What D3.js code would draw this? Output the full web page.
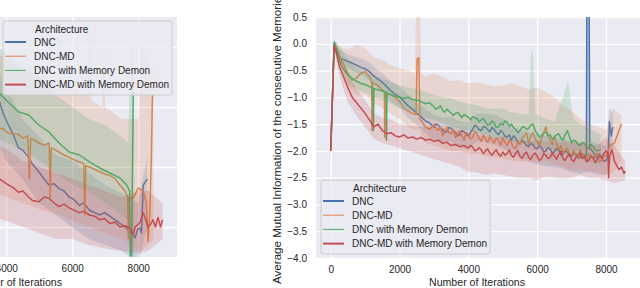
<!DOCTYPE html>
<html>
<head>
<meta charset="utf-8">
<script src="https://cdn.jsdelivr.net/npm/d3@7"></script>
<style>
  body { margin: 0; background: #fff; }
  text { font-family: "Liberation Sans", Arial, sans-serif; fill: #262626; }
</style>
</head>
<body>
<div id="chart"></div>
<script>
var width = 640, height = 288;

var names = ["DNC", "DNC-MD", "DNC with Memory Demon", "DNC-MD with Memory Demon"];
var colors = ["#4c72b0", "#dd8452", "#55a868", "#c44e52"];
var legendWidths = [2, 1, 1, 2];
var xTickValues = [0, 2000, 4000, 6000, 8000];
var rightYTicks = [0.5, 0.0, -0.5, -1.0, -1.5, -2.0, -2.5, -3.0, -3.5, -4.0];
var leftYTicks = [-1.0, -1.5, -2.0, -2.5];

// ---- right panel: [iteration, mean]
var rDnc = [[0,-2.0],[100,0.03],[200,-0.2],[300,-0.28],[400,-0.3],[500,-0.33],[625,-0.36],[750,-0.4],[875,-0.44],[1000,-0.47],[1125,-0.52],[1250,-0.6],[1375,-0.66],[1500,-0.72],[1625,-0.8],[1750,-0.88],[1875,-0.94],[2000,-0.99],[2125,-1.08],[2250,-1.16],[2375,-1.22],[2500,-1.3],[2625,-1.36],[2750,-1.44],[2875,-1.48],
  [3000,-1.56],[3060,-1.5],[3125,-1.52],[3190,-1.58],[3250,-1.6],[3310,-1.66],[3375,-1.64],[3440,-1.56],[3500,-1.58],[3560,-1.62],[3625,-1.66],[3690,-1.72],[3750,-1.7],[3810,-1.62],[3875,-1.64],[3940,-1.7],[4000,-1.72],[4060,-1.66],[4125,-1.6],[4190,-1.52],[4250,-1.55],[4310,-1.6],[4375,-1.62],[4440,-1.54],[4500,-1.56],[4560,-1.6],[4625,-1.64],[4690,-1.56],[4750,-1.6],[4810,-1.66],[4875,-1.7],[4940,-1.62],[5000,-1.66],[5060,-1.72],[5125,-1.74],[5190,-1.7],[5250,-1.8],[5310,-1.72],[5375,-1.76],[5440,-1.84],[5500,-1.86],[5560,-1.8],[5625,-1.84],[5690,-1.9],[5750,-1.92],[5810,-1.86],[5875,-1.88],[5940,-1.95],[6000,-1.96],[6060,-1.9],[6125,-1.94],[6190,-2.02],[6250,-2.0],[6310,-1.94],[6375,-1.96],[6440,-2.04],[6500,-2.02],[6560,-1.96],[6625,-1.98],[6690,-2.08],[6750,-2.06],[6810,-2.0],[6875,-2.02],[6940,-2.1],[7000,-2.1],[7060,-2.04],[7125,-2.06],[7190,-2.14],[7250,-2.12],[7310,-2.06],[7375,-2.08],[7430,-2.1],
  [7445,0.7],[7510,0.7],[7525,-1.95],[7625,-2.02],[7690,-2.1],[7750,-2.14],[7810,-2.06],[7875,-2.12],[7940,-2.2],[8000,-2.18],[8060,-2.1],[8100,-1.45],[8150,-1.72],[8200,-1.55]];
var rDncMd = [[0,-2.0],[100,0.0],[200,-0.12],[300,-0.3],[400,-0.42],[500,-0.56],[625,-0.68],[750,-0.64],[875,-0.55],[1000,-0.52],[1125,-0.62],[1190,-0.7],[1200,-1.62],[1215,-0.72],[1375,-0.78],[1500,-0.86],[1560,-0.9],[1570,-1.75],[1585,-0.92],[1750,-0.95],[1875,-1.0],[2000,-1.08],[2125,-1.2],[2250,-1.26],[2375,-1.3],[2480,-1.32],[2510,-0.28],[2560,-0.26],[2590,-1.4],[2750,-1.55],[2875,-1.6],
  [3000,-1.5],[3060,-1.58],[3125,-1.62],[3190,-1.55],[3250,-1.72],[3310,-1.64],[3375,-1.55],[3440,-1.66],[3500,-1.68],[3560,-1.6],[3625,-1.75],[3690,-1.7],[3750,-1.62],[3810,-1.72],[3875,-1.8],[3940,-1.66],[4000,-1.7],[4060,-1.78],[4125,-1.75],[4190,-1.64],[4250,-1.68],[4310,-1.76],[4375,-1.82],[4440,-1.7],[4500,-1.78],[4560,-1.84],[4625,-1.72],[4690,-1.8],[4750,-1.85],[4810,-1.76],[4875,-1.8],[4940,-1.9],[5000,-1.76],[5060,-1.84],[5125,-1.9],[5190,-1.8],[5250,-1.85],[5310,-1.94],[5375,-1.95],[5440,-1.84],[5500,-1.88],[5560,-1.76],[5625,-1.72],[5690,-1.66],[5750,-1.85],[5810,-1.74],[5875,-1.66],[5940,-1.78],[6000,-1.82],[6060,-1.9],[6125,-1.78],[6190,-1.66],[6250,-1.55],[6310,-1.7],[6375,-1.8],[6440,-1.88],[6500,-1.72],[6560,-1.85],[6625,-1.98],[6690,-1.9],[6750,-2.05],[6810,-1.98],[6875,-1.95],[6940,-2.06],[7000,-2.1],[7060,-2.0],[7125,-2.08],[7190,-2.14],[7250,-1.98],[7310,-2.06],[7375,-2.12],[7440,-2.2],[7500,-2.05],[7560,-2.1],[7625,-2.15],[7690,-2.08],[7750,-2.05],[7810,-2.2],[7875,-2.18],[7940,-2.1],[8000,-2.1],[8125,-1.9],[8250,-1.85],[8375,-1.62],[8450,-1.5]];
var rDncDemon = [[0,-2.0],[100,0.02],[200,-0.15],[300,-0.4],[400,-0.5],[500,-0.58],[625,-0.65],[750,-0.7],[875,-0.74],[1000,-0.76],[1125,-0.8],[1230,-0.82],[1240,-1.62],[1255,-0.84],[1375,-0.86],[1500,-0.88],[1610,-0.9],[1620,-1.8],[1635,-0.92],[1750,-0.95],[1875,-0.98],[2000,-1.0],[2125,-1.02],[2250,-1.0],[2375,-1.04],[2500,-1.05],[2625,-1.08],[2750,-1.12],[2875,-1.1],
  [3000,-1.18],[3060,-1.22],[3125,-1.2],[3190,-1.16],[3250,-1.24],[3310,-1.28],[3375,-1.22],[3440,-1.26],[3500,-1.29],[3560,-1.34],[3625,-1.3],[3690,-1.28],[3750,-1.33],[3810,-1.38],[3875,-1.32],[3940,-1.35],[4000,-1.37],[4060,-1.42],[4125,-1.36],[4190,-1.38],[4250,-1.4],[4310,-1.46],[4375,-1.42],[4440,-1.4],[4500,-1.46],[4560,-1.52],[4625,-1.5],[4690,-1.44],[4750,-1.48],[4810,-1.56],[4875,-1.55],[4940,-1.48],[5000,-1.52],[5060,-1.44],[5125,-1.46],[5190,-1.54],[5250,-1.5],[5310,-1.56],[5375,-1.6],[5440,-1.66],[5500,-1.62],[5560,-1.56],[5625,-1.55],[5690,-1.6],[5750,-1.58],[5810,-1.52],[5875,-1.5],[5940,-1.62],[6000,-1.68],[6060,-1.74],[6125,-1.72],[6190,-1.66],[6250,-1.65],[6310,-1.72],[6375,-1.7],[6440,-1.78],[6500,-1.75],[6560,-1.7],[6625,-1.68],[6690,-1.76],[6750,-1.8],[6810,-1.7],[6875,-1.62],[6940,-1.74],[7000,-1.85],[7060,-1.8],[7125,-1.82],[7190,-1.88],[7250,-1.9],[7310,-1.84],[7375,-1.86],[7440,-1.92],[7500,-1.95],[7560,-1.88],[7625,-1.92],[7690,-1.98],[7750,-2.0],[7850,-1.98]];
var rDncMdDemon = [[0,-2.0],[60,-0.8],[100,-0.03],[175,-0.2],[250,-0.42],[375,-0.62],[500,-0.82],[625,-1.0],[750,-1.1],[875,-1.2],[1000,-1.3],[1125,-1.42],[1250,-1.55],[1375,-1.5],[1500,-1.62],[1625,-1.68],[1750,-1.66],[1875,-1.72],[2000,-1.74],[2125,-1.7],[2250,-1.76],[2375,-1.74],[2500,-1.78],[2625,-1.75],[2750,-1.8],[2875,-1.78],[3000,-1.82],[3125,-1.8],[3250,-1.86],[3375,-1.84],[3500,-1.9],[3625,-1.88],[3750,-1.92],[3875,-1.9],
  [4000,-1.95],[4060,-1.9],[4125,-1.93],[4190,-2.0],[4250,-1.98],[4310,-1.94],[4375,-1.98],[4440,-2.05],[4500,-2.0],[4560,-1.96],[4625,-2.04],[4690,-2.08],[4750,-2.02],[4810,-1.98],[4875,-2.06],[4940,-2.1],[5000,-2.02],[5060,-2.08],[5125,-2.05],[5190,-1.98],[5250,-2.08],[5310,-2.12],[5375,-2.04],[5440,-2.0],[5500,-2.1],[5560,-2.14],[5625,-2.06],[5690,-2.02],[5750,-2.12],[5810,-2.16],[5875,-2.08],[5940,-2.04],[6000,-2.1],[6060,-2.18],[6125,-2.15],[6190,-2.05],[6250,-2.08],[6310,-2.14],[6375,-2.12],[6440,-2.04],[6500,-2.1],[6560,-2.16],[6625,-2.06],[6690,-2.0],[6750,-2.14],[6810,-2.18],[6875,-2.1],[6940,-2.06],[7000,-2.16],[7060,-2.2],[7125,-2.12],[7190,-2.08],[7250,-2.04],[7310,-2.14],[7375,-2.1],[7440,-2.2],[7500,-2.18],[7560,-2.1],[7625,-2.12],[7690,-2.22],[7750,-2.16],[7810,-2.08],[7875,-2.14],[7940,-2.05],[8000,-2.0],[8060,-2.05],[8075,-2.5],[8100,-2.1],[8175,-1.98],[8250,-2.2],[8375,-2.35],[8450,-2.3],[8525,-2.42],[8560,-2.38]];

// ---- right panel bands: [iteration, lower, upper]
var rDncBand = [[0,-2.1,-1.9],[100,-0.05,0.08],[250,-0.35,-0.1],[500,-0.45,-0.2],[750,-0.55,-0.25],[1000,-0.62,-0.3],[1250,-0.78,-0.42],[1500,-0.9,-0.55],[1750,-1.08,-0.7],[2000,-1.2,-0.8],[2250,-1.38,-0.95],[2500,-1.52,-1.1],[2750,-1.66,-1.22],[3000,-1.8,-1.32],[3250,-1.84,-1.38],[3500,-1.82,-1.36],[3750,-1.95,-1.45],[4000,-1.96,-1.46],[4250,-1.82,-1.3],[4500,-1.84,-1.3],[4750,-1.88,-1.32],[5000,-1.95,-1.4],[5250,-2.05,-1.55],[5500,-2.12,-1.6],[5750,-2.2,-1.65],[6000,-2.25,-1.7],[6250,-2.28,-1.72],[6500,-2.3,-1.75],[6750,-2.34,-1.78],[7000,-2.4,-1.82],[7250,-2.42,-1.85],[7420,-2.4,-1.85],[7435,-2.4,0.7],[7530,-2.4,0.7],[7560,-2.4,-1.8],[7750,-2.44,-1.86],[8000,-2.45,-1.9],[8100,-2.3,-1.2],[8200,-2.0,-1.3]];
var rDncMdBand = [[0,-2.15,-1.85],[100,-0.1,0.05],[250,-0.4,-0.05],[500,-0.8,-0.1],[750,-0.95,-0.02],[1000,-0.95,-0.08],[1250,-1.1,-0.25],[1500,-1.2,-0.3],[1750,-1.3,-0.4],[2000,-1.4,-0.45],[2250,-1.55,-0.5],[2450,-1.6,-0.55],[2480,-1.6,0.7],[2600,-1.6,0.7],[2630,-1.7,-0.55],[2750,-1.85,-0.6],[3000,-1.9,-0.55],[3250,-1.95,-0.62],[3500,-2.0,-0.7],[3750,-2.0,-0.68],[4000,-2.05,-0.74],[4250,-2.05,-0.72],[4500,-2.1,-0.76],[4750,-2.12,-0.8],[5000,-2.15,-0.78],[5250,-2.18,-0.74],[5500,-2.2,-0.8],[5750,-2.2,-0.85],[6000,-2.22,-0.82],[6250,-2.2,-0.9],[6500,-2.25,-1.0],[6750,-2.3,-1.15],[7000,-2.35,-1.25],[7250,-2.35,-1.4],[7500,-2.38,-1.5],[7750,-2.4,-1.55],[8000,-2.45,-1.6],[8200,-2.4,-1.2],[8450,-2.2,-1.35]];
var rDncDemonBand = [[0,-2.1,-1.9],[100,-0.05,0.08],[250,-0.35,-0.05],[500,-0.75,-0.3],[750,-0.85,-0.45],[1000,-0.92,-0.55],[1250,-1.0,-0.6],[1500,-1.05,-0.65],[1750,-1.12,-0.72],[2000,-1.2,-0.78],[2250,-1.25,-0.82],[2500,-1.3,-0.85],[2750,-1.38,-0.9],[3000,-1.42,-0.95],[3250,-1.48,-1.0],[3500,-1.55,-1.02],[3750,-1.6,-1.08],[4000,-1.62,-1.12],[4250,-1.66,-1.15],[4500,-1.7,-1.2],[4750,-1.75,-1.22],[5000,-1.78,-1.2],[5250,-1.82,-1.28],[5500,-1.85,-1.3],[5750,-1.9,-1.32],[5830,-1.9,-0.1],[5880,-1.9,-0.2],[5950,-1.9,-1.3],[6250,-1.95,-1.4],[6500,-2.0,-1.45],[6750,-2.05,-1.0],[6900,-2.05,-0.7],[7050,-2.1,-1.4],[7250,-2.15,-1.5],[7500,-2.2,-1.58],[7750,-2.25,-1.65],[7850,-2.25,-1.7]];
var rDncMdDemonBand = [[0,-2.1,-1.9],[60,-1.2,-0.5],[100,-0.1,0.03],[250,-0.6,-0.25],[500,-1.1,-0.55],[750,-1.35,-0.85],[1000,-1.55,-1.05],[1250,-1.78,-1.3],[1500,-1.85,-1.38],[1750,-1.9,-1.42],[2000,-1.95,-1.5],[2250,-2.0,-1.52],[2500,-2.05,-1.55],[2750,-2.1,-1.55],[3000,-2.15,-1.55],[3250,-2.2,-1.58],[3500,-2.25,-1.62],[3750,-2.3,-1.62],[4000,-2.4,-1.65],[4250,-2.4,-1.7],[4500,-2.45,-1.72],[4750,-2.42,-1.75],[5000,-2.45,-1.72],[5250,-2.48,-1.78],[5500,-2.5,-1.8],[5750,-2.5,-1.82],[6000,-2.55,-1.8],[6250,-2.48,-1.82],[6500,-2.5,-1.85],[6750,-2.52,-1.82],[7000,-2.5,-1.85],[7250,-2.45,-1.85],[7500,-2.5,-1.88],[7750,-2.5,-1.9],[8000,-2.55,-1.75],[8250,-2.6,-1.9],[8560,-2.55,-2.2]];

// ---- left panel (cut off at the page edge)
var lDnc = [[3400,-1.3],[3754,-1.42],[3900,-1.55],[4062,-1.65],[4200,-1.72],[4369,-1.84],[4500,-1.86],[4677,-1.92],[4800,-1.98],[4985,-2.04],[5150,-2.1],[5292,-2.15],[5450,-2.14],[5600,-2.18],[5750,-2.2],[5908,-2.25],[6050,-2.27],[6215,-2.32],[6350,-2.3],[6523,-2.36],[6680,-2.38],[6831,-2.4],[6980,-2.38],[7138,-2.41],[7300,-2.44],[7446,-2.47],[7600,-2.5],[7754,-2.54],[7908,-2.59],[7980,-2.52],[8062,-2.51],[8100,-2.55],[8154,-2.15],[8230,-2.12],[8277,-2.1]];
var lDncMd = [[3400,-1.6],[3754,-1.675],[3900,-1.68],[4062,-1.72],[4200,-1.72],[4369,-1.73],[4500,-1.76],[4650,-1.74],[4700,-2.1],[4740,-1.76],[4985,-1.8],[5150,-1.82],[5300,-1.8],[5330,-2.25],[5360,-1.84],[5600,-1.875],[5750,-1.9],[5908,-1.92],[6050,-1.94],[6215,-1.958],[6350,-1.97],[6380,-2.4],[6410,-1.99],[6523,-2.0],[6831,-2.04],[7000,-2.06],[7138,-2.07],[7300,-2.1],[7446,-2.15],[7600,-2.2],[7680,-2.25],[7700,-2.6],[7720,-2.25],[7850,-2.26],[8000,-2.175],[8150,-2.2],[8250,-2.3],[8300,-2.62],[8350,-2.4],[8400,-1.9],[8430,-1.42],[8460,-1.4]];
var lDncDemon = [[3400,-1.32],[3754,-1.375],[4062,-1.46],[4369,-1.54],[4677,-1.567],[4985,-1.65],[5292,-1.708],[5600,-1.8],[5908,-1.875],[6215,-1.9],[6523,-1.958],[6831,-2.008],[7138,-2.05],[7446,-2.092],[7650,-2.15],[7740,-2.2],[7760,-2.74],[7800,-2.74],[7850,-1.38],[7877,-1.38]];
var lDncMdDemon = [[3400,-2.1],[3754,-2.092],[3900,-2.12],[4062,-2.15],[4200,-2.17],[4369,-2.21],[4500,-2.2],[4677,-2.25],[4800,-2.28],[4985,-2.29],[5150,-2.25],[5292,-2.26],[5450,-2.3],[5600,-2.33],[5750,-2.31],[5908,-2.34],[6050,-2.36],[6215,-2.38],[6350,-2.37],[6523,-2.4],[6680,-2.41],[6831,-2.44],[6980,-2.43],[7138,-2.47],[7300,-2.46],[7446,-2.5],[7600,-2.49],[7754,-2.51],[7850,-2.56],[7908,-2.5],[8062,-2.46],[8150,-2.38],[8215,-2.43],[8300,-2.5],[8369,-2.48],[8450,-2.44],[8520,-2.5],[8600,-2.42],[8677,-2.5],[8740,-2.44]];

var lDncBand = [[3400,-1.6,-1.0],[4000,-1.95,-1.35],[4500,-2.1,-1.6],[5000,-2.3,-1.75],[5500,-2.4,-1.9],[6000,-2.5,-1.95],[6500,-2.6,-2.05],[7000,-2.65,-2.15],[7500,-2.7,-2.22],[8000,-2.8,-2.3],[8277,-2.5,-1.9]];
var lDncMdBand = [[3400,-2.2,-1.0],[4000,-2.25,-1.1],[4500,-2.3,-1.2],[5000,-2.35,-1.25],[5560,-2.4,-1.3],[5580,-2.4,-0.8],[5620,-2.4,-0.8],[5640,-2.4,-1.3],[6000,-2.45,-1.35],[6500,-2.5,-1.4],[6520,-2.5,-0.9],[6560,-2.5,-0.9],[6580,-2.5,-1.45],[6920,-2.55,-1.5],[6940,-2.55,-0.95],[6980,-2.55,-0.95],[7000,-2.55,-1.5],[7500,-2.6,-1.6],[8000,-2.7,-1.6],[8100,-2.7,-1.0],[8460,-2.6,-1.2]];
var lDncDemonBand = [[3400,-1.7,-0.95],[4000,-1.8,-1.05],[4500,-1.85,-1.15],[5000,-1.95,-1.25],[5500,-2.05,-1.4],[6000,-2.15,-1.5],[6500,-2.2,-1.6],[7000,-2.3,-1.65],[7500,-2.4,-1.75],[7700,-2.45,-1.8],[7760,-2.75,-1.0],[7877,-2.75,-1.0]];
var lDncMdDemonBand = [[3400,-2.4,-1.8],[4000,-2.45,-1.85],[4500,-2.5,-1.95],[5000,-2.55,-2.0],[5500,-2.6,-2.05],[6000,-2.6,-2.1],[6500,-2.65,-2.15],[7000,-2.68,-2.2],[7500,-2.7,-2.25],[8000,-2.72,-2.2],[8300,-2.7,-2.2],[8740,-2.6,-2.3]];

var svg = d3.select("#chart")
  .append("svg")
  .attr("width", width)
  .attr("height", height);

function drawPanel(p) {
  var x = d3.scaleLinear().domain(p.xDomain).range([p.left, p.right]);
  var y = d3.scaleLinear().domain(p.yDomain).range([p.bottom, p.top]);
  var g = svg.append("g");

  g.append("rect")
    .attr("x", p.left).attr("y", p.top)
    .attr("width", p.right - p.left).attr("height", p.bottom - p.top)
    .attr("fill", "#eaeaf2");

  // grid
  g.append("g")
    .attr("transform", "translate(0," + p.bottom + ")")
    .call(d3.axisBottom(x).tickValues(xTickValues).tickSize(-(p.bottom - p.top)).tickFormat(""))
    .call(function(a) { a.select(".domain").remove(); })
    .selectAll("line").attr("stroke", "#fff").attr("stroke-width", 1.3);
  g.append("g")
    .attr("transform", "translate(" + p.left + ",0)")
    .call(d3.axisLeft(y).tickValues(p.yTicks).tickSize(-(p.right - p.left)).tickFormat(""))
    .call(function(a) { a.select(".domain").remove(); })
    .selectAll("line").attr("stroke", "#fff").attr("stroke-width", 1.3);

  var clipId = "clip-" + p.id;
  svg.append("clipPath").attr("id", clipId)
    .append("rect")
    .attr("x", p.left).attr("y", p.top)
    .attr("width", p.right - p.left).attr("height", p.bottom - p.top);

  var plot = g.append("g").attr("clip-path", "url(#" + clipId + ")");

  var line = d3.line()
    .x(function(d) { return x(d[0]); })
    .y(function(d) { return y(d[1]); });
  var area = d3.area()
    .x(function(d) { return x(d[0]); })
    .y0(function(d) { return y(d[1]); })
    .y1(function(d) { return y(d[2]); });

  p.series.forEach(function(s, i) {
    plot.append("path")
      .datum(s)
      .attr("fill", "none")
      .attr("stroke", colors[i])
      .attr("stroke-width", 1.5)
      .attr("stroke-linejoin", "round")
      .attr("d", line);
    plot.append("path")
      .datum(p.bands[i])
      .attr("fill", colors[i])
      .attr("fill-opacity", 0.2)
      .attr("d", area);
  });

  // tick labels
  var xa = g.append("g")
    .attr("transform", "translate(0," + p.bottom + ")")
    .call(d3.axisBottom(x).tickValues(xTickValues).tickSize(0).tickPadding(8).tickFormat(d3.format("d")));
  xa.select(".domain").remove();
  xa.selectAll("text").attr("font-size", 10).attr("font-family", null).attr("fill", "#262626");

  if (p.showY) {
    var ya = g.append("g")
      .attr("transform", "translate(" + p.left + ",0)")
      .call(d3.axisLeft(y).tickValues(p.yTicks).tickSize(0).tickPadding(9).tickFormat(d3.format(".1f")));
    ya.select(".domain").remove();
    ya.selectAll("text").attr("font-size", 10).attr("font-family", null).attr("fill", "#262626");

    g.append("text")
      .attr("transform", "translate(281," + ((p.top + p.bottom) / 2) + ") rotate(-90)")
      .attr("text-anchor", "middle")
      .attr("font-size", 11.6)
      .text("Average Mutual Information of the consecutive Memories");
  }

  g.append("text")
    .attr("x", p.labelX)
    .attr("y", 286)
    .attr("text-anchor", "middle")
    .attr("font-size", 10.6)
    .text("Number of Iterations");

  // legend
  var lg = g.append("g").attr("transform", "translate(" + p.legend[0] + "," + p.legend[1] + ")");
  lg.append("rect")
    .attr("width", 169).attr("height", 74).attr("rx", 2.5)
    .attr("fill", "#eaeaf2").attr("fill-opacity", 0.8)
    .attr("stroke", "#cccccc").attr("stroke-width", 1);
  lg.append("text")
    .attr("x", 32).attr("y", 8).attr("dy", "0.35em")
    .attr("font-size", 10)
    .text("Architecture");
  names.forEach(function(n, i) {
    var yy = 21 + i * 14.2;
    lg.append("line")
      .attr("x1", 2).attr("x2", 23).attr("y1", yy).attr("y2", yy)
      .attr("stroke", colors[i]).attr("stroke-width", legendWidths[i]);
    lg.append("text")
      .attr("x", 31).attr("y", yy).attr("dy", "0.35em")
      .attr("font-size", 10)
      .text(n);
  });
}

drawPanel({
  id: "left", left: -140, right: 177, top: 17, bottom: 257,
  xDomain: [-437, 9177], yDomain: [-2.75, -0.75], yTicks: leftYTicks,
  series: [lDnc, lDncMd, lDncDemon, lDncMdDemon],
  bands: [lDncBand, lDncMdBand, lDncDemonBand, lDncMdDemonBand],
  showY: false, labelX: 14, legend: [3, 21]
});

drawPanel({
  id: "right", left: 316, right: 640, top: 17, bottom: 258,
  xDomain: [-428, 8988], yDomain: [-4.0, 0.5], yTicks: rightYTicks,
  series: [rDnc, rDncMd, rDncDemon, rDncMdDemon],
  bands: [rDncBand, rDncMdBand, rDncDemonBand, rDncMdDemonBand],
  showY: true, labelX: 477, legend: [321, 180]
});
</script>
</body>
</html>
